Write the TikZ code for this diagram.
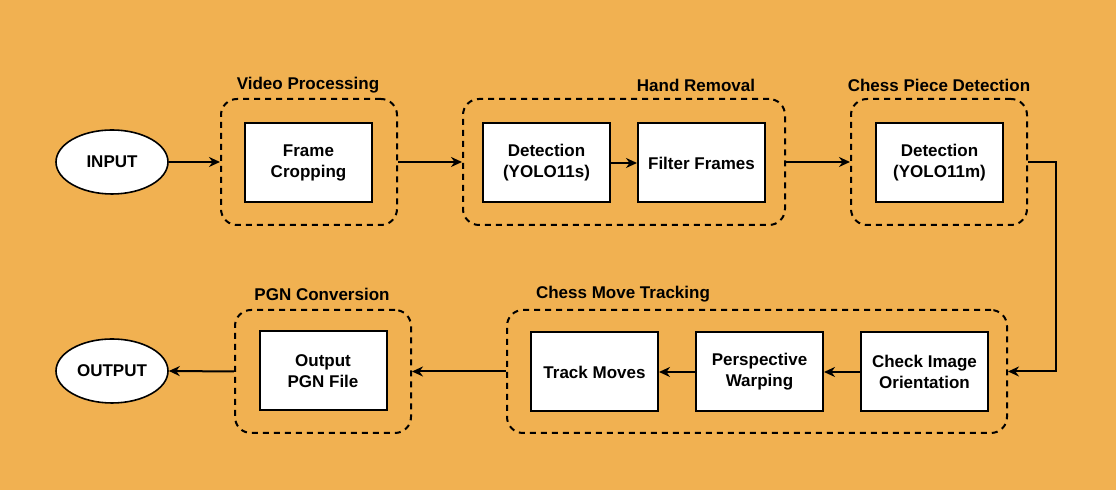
\documentclass[tikz,border=0pt]{standalone}
\usepackage{fontspec}
\setmainfont{Liberation Sans}
\usetikzlibrary{arrows.meta,shapes.geometric}
\definecolor{bg}{HTML}{F1B151}
\begin{document}
\begin{tikzpicture}[x=0.5pt,y=-0.5pt,
  font=\bfseries\fontsize{8.5}{10.5}\selectfont,
  box/.style={draw, fill=white, line width=1pt, minimum width=63.5pt, minimum height=39.5pt, align=center, inner sep=0pt},
  grp/.style={draw, dash pattern=on 3pt off 2.5pt, line width=1pt, rounded corners=8pt, inner sep=0pt, minimum height=63pt},
  term/.style={draw, ellipse, fill=white, line width=0.8pt, minimum width=56pt, minimum height=32pt, inner sep=0pt},
  arr/.style={-{Stealth[length=5.5pt,width=5pt]}, line width=1pt},
  lbl/.style={inner sep=0pt}]
\fill[bg] (0,0) rectangle (1116,490);
\useasboundingbox (0,0) rectangle (1116,490);

% groups
\node[grp, minimum width=88pt] (vp) at (309,162) {};
\node[grp, minimum width=161pt] (hr) at (624,162) {};
\node[grp, minimum width=88pt] (cpd) at (939,162) {};
\node[grp, minimum width=250pt, minimum height=61.5pt] (cmt) at (757,371.5) {};
\node[grp, minimum width=88pt, minimum height=61.5pt] (pgn) at (323,371.5) {};

% group labels
\node[lbl] (lvp) at (308,85) {Video Processing};
\node[lbl] (lhr) at (696,85) {Hand Removal};
\node[lbl] (lcpd) at (939,85) {Chess Piece Detection};
\node[lbl] (lcmt) at (623,294) {Chess Move Tracking};
\node[lbl] (lpgn) at (322,294) {PGN Conversion};

% terminals
\node[term] (in) at (112,162) {INPUT};
\node[term] (out) at (112,371) {OUTPUT};

% boxes
\node[box] (fc) at (308.5,163) {Frame\\Cropping};
\node[box] (ds) at (546.5,163) {Detection\\(YOLO11s)};
\node[box] (ff) at (701.5,163) {Filter Frames};
\node[box] (dm) at (939.5,163) {Detection\\(YOLO11m)};
\node[box] (ci) at (924.5,372) {Check Image\\Orientation};
\node[box] (pw) at (759.5,372) {Perspective\\Warping};
\node[box] (tm) at (594.5,372) {Track Moves};
\node[box] (op) at (323,371) {Output\\PGN File};

% connectors
\draw[arr] (in.east) -- (vp.west);
\draw[arr] (vp.east) -- (hr.west);
\draw[arr] (ds.east) -- (ff.west);
\draw[arr] (hr.east) -- (cpd.west);
\draw[arr] (cpd.east) -- ++(28,0) |- (cmt.east);
\draw[arr] (ci.west) -- (pw.east);
\draw[arr] (pw.west) -- (tm.east);
\draw[arr] (cmt.west) -- (pgn.east);
\draw[arr] (pgn.west) -- (out.east);
\end{tikzpicture}
\end{document}
